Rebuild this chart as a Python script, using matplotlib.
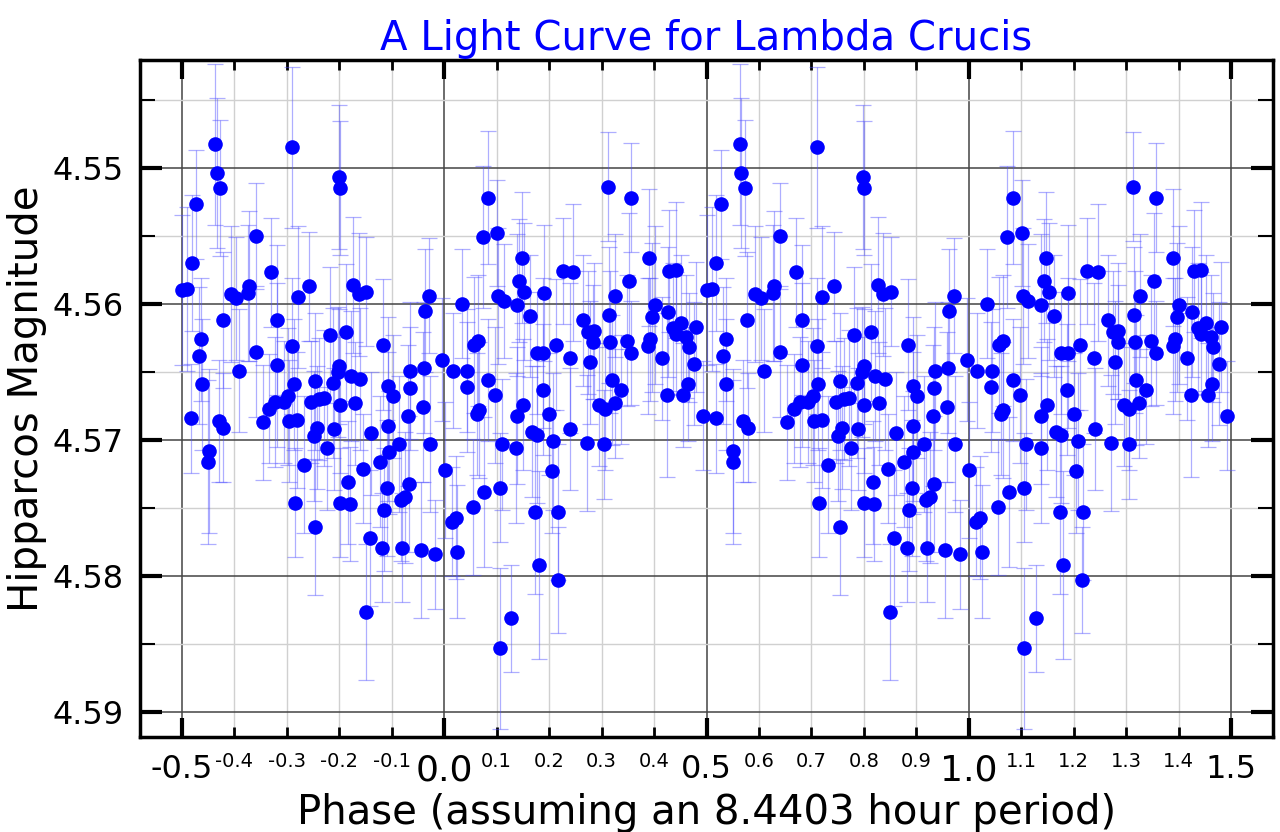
import matplotlib.pyplot as plt
import numpy as np

# one cycle of the folded light curve (phase 0..1)
phase = [
    0.996, 0.001, 0.016, 0.034, 0.044, 0.043, 0.014, 0.022, 0.025, 0.057,
    0.065, 0.062, 0.066, 0.055, 0.076, 0.073, 0.084, 0.084, 0.101, 0.103,
    0.113, 0.097, 0.110, 0.106, 0.106, 0.128, 0.148, 0.143, 0.153, 0.138,
    0.163, 0.150, 0.138, 0.137, 0.167, 0.176, 0.173, 0.180, 0.176, 0.189,
    0.190, 0.188, 0.200, 0.208, 0.205, 0.217, 0.216, 0.213, 0.226, 0.239,
    0.240, 0.246, 0.265, 0.275, 0.285, 0.284, 0.278, 0.272, 0.305, 0.296,
    0.306, 0.313, 0.326, 0.315, 0.316, 0.319, 0.325, 0.337, 0.356, 0.353,
    0.348, 0.357, 0.390, 0.401, 0.397, 0.393, 0.389, 0.416, 0.424, 0.426,
    0.429, 0.442, 0.437, 0.442, 0.452, 0.461, 0.466, 0.464, 0.456, 0.480,
    0.477, 0.493,
    0.501, 0.510, 0.519, 0.527, 0.518, 0.537, 0.532,
    0.538, 0.551, 0.550, 0.563, 0.566, 0.573, 0.578, 0.570, 0.579, 0.593,
    0.603, 0.609, 0.628, 0.626, 0.641, 0.641, 0.654, 0.666, 0.670, 0.682,
    0.682, 0.678, 0.694, 0.703, 0.710, 0.710, 0.713, 0.704, 0.720, 0.721,
    0.715, 0.732, 0.743, 0.754, 0.746, 0.751, 0.754, 0.762, 0.771, 0.758,
    0.776, 0.782, 0.787, 0.797, 0.800, 0.789, 0.801, 0.799, 0.801, 0.813,
    0.822, 0.829, 0.840, 0.827, 0.837, 0.851, 0.817, 0.801, 0.820, 0.846,
    0.861, 0.858, 0.850, 0.877, 0.882, 0.886, 0.891, 0.894, 0.893, 0.893,
    0.902, 0.884, 0.914, 0.920, 0.918, 0.926, 0.933, 0.931, 0.934, 0.935,
    0.955, 0.983, 0.959, 0.961, 0.963, 0.971, 0.973,
]

magnitude = [
    4.5641, 4.5722, 4.5649, 4.5600, 4.5649, 4.5661, 4.5760, 4.5757, 4.5782, 4.5630,
    4.5627, 4.5681, 4.5678, 4.5749, 4.5738, 4.5551, 4.5522, 4.5656, 4.5548, 4.5594,
    4.5598, 4.5667, 4.5703, 4.5735, 4.5853, 4.5831, 4.5566, 4.5583, 4.5591, 4.5601,
    4.5609, 4.5674, 4.5682, 4.5706, 4.5694, 4.5696, 4.5753, 4.5792, 4.5636, 4.5636,
    4.5592, 4.5663, 4.5681, 4.5701, 4.5723, 4.5753, 4.5803, 4.5630, 4.5576, 4.5640,
    4.5692, 4.5577, 4.5612, 4.5621, 4.5620, 4.5628, 4.5643, 4.5702, 4.5703, 4.5674,
    4.5677, 4.5514, 4.5594, 4.5608, 4.5628, 4.5656, 4.5673, 4.5663, 4.5522, 4.5583,
    4.5627, 4.5636, 4.5566, 4.5601, 4.5610, 4.5626, 4.5631, 4.5640, 4.5667, 4.5606,
    4.5576, 4.5575, 4.5618, 4.5622, 4.5614, 4.5624, 4.5632, 4.5659, 4.5667, 4.5617,
    4.5644, 4.5682,
    4.5590, 4.5589, 4.5570, 4.5527, 4.5684, 4.5626, 4.5638,
    4.5659, 4.5708, 4.5716, 4.5483, 4.5504, 4.5515, 4.5612, 4.5686, 4.5691, 4.5593,
    4.5596, 4.5649, 4.5587, 4.5592, 4.5550, 4.5635, 4.5687, 4.5677, 4.5577, 4.5612,
    4.5645, 4.5672, 4.5672, 4.5668, 4.5485, 4.5631, 4.5659, 4.5686, 4.5685, 4.5595,
    4.5746, 4.5718, 4.5587, 4.5657, 4.5672, 4.5697, 4.5764, 4.5670, 4.5669, 4.5691,
    4.5706, 4.5623, 4.5658, 4.5650, 4.5646, 4.5692, 4.5674, 4.5507, 4.5515, 4.5621,
    4.5653, 4.5673, 4.5655, 4.5586, 4.5593, 4.5591, 4.5731, 4.5746, 4.5747, 4.5721,
    4.5695, 4.5772, 4.5826, 4.5716, 4.5779, 4.5751, 4.5735, 4.5709, 4.5690, 4.5660,
    4.5668, 4.5630, 4.5703, 4.5779, 4.5744, 4.5742, 4.5732, 4.5682, 4.5662, 4.5649,
    4.5781, 4.5784, 4.5676, 4.5647, 4.5605, 4.5594, 4.5703,
]

mag_err = [
    .0045, .0050, .0042, .0040, .0045, .0048, .0040, .0045, .0049, .0050,
    .0048, .0045, .0050, .0050, .0055, .0052, .0049, .0045, .0039, .0050,
    .0042, .0050, .0048, .0040, .0059, .0039, .0048, .0045, .0050, .0052,
    .0045, .0048, .0050, .0055, .0048, .0050, .0060, .0069, .0045, .0055,
    .0050, .0048, .0045, .0050, .0045, .0050, .0039, .0048, .0039, .0055,
    .0045, .0050, .0048, .0045, .0050, .0042, .0045, .0050, .0040, .0045,
    .0045, .0040, .0045, .0050, .0052, .0048, .0040, .0040, .0040, .0050,
    .0048, .0038, .0050, .0058, .0055, .0045, .0050, .0045, .0060, .0048,
    .0045, .0050, .0048, .0045, .0050, .0045, .0040, .0042, .0038, .0048,
    .0045, .0040,
    .0055, .0060, .0050, .0040, .0040, .0045, .0050,
    .0048, .0060, .0060, .0059, .0055, .0050, .0050, .0045, .0040, .0050,
    .0045, .0045, .0055, .0050, .0039, .0048, .0042, .0040, .0040, .0055,
    .0060, .0048, .0045, .0050, .0059, .0050, .0048, .0045, .0050, .0052,
    .0040, .0050, .0040, .0050, .0045, .0048, .0050, .0045, .0050, .0045,
    .0045, .0050, .0055, .0048, .0042, .0045, .0050, .0053, .0049, .0050,
    .0048, .0045, .0052, .0050, .0045, .0040, .0045, .0040, .0042, .0040,
    .0045, .0050, .0050, .0048, .0040, .0045, .0050, .0045, .0055, .0050,
    .0045, .0048, .0050, .0040, .0045, .0048, .0050, .0052, .0045, .0050,
    .0050, .0040, .0055, .0048, .0045, .0042, .0050,
]

major_x = [-0.5, 0.0, 0.5, 1.0, 1.5]
major_x_labels = ['-0.5', '0.0', '0.5', '1.0', '1.5']
major_x_sizes = [23, 26, 23, 26, 23]
minor_x = [-0.4, -0.3, -0.2, -0.1, 0.1, 0.2, 0.3, 0.4, 0.6, 0.7, 0.8, 0.9,
           1.1, 1.2, 1.3, 1.4]
minor_x_labels = ['-0.4', '-0.3', '-0.2', '-0.1', '0.1', '0.2', '0.3', '0.4',
                  '0.6', '0.7', '0.8', '0.9', '1.1', '1.2', '1.3', '1.4']
major_y = [4.55, 4.56, 4.57, 4.58, 4.59]
major_y_labels = ['4.55', '4.56', '4.57', '4.58', '4.59']
minor_y = [4.545, 4.555, 4.565, 4.575, 4.585]

# plot two cycles: each point is shown at its phase and one cycle away
p = np.array(phase)
m = np.array(magnitude)
e = np.array(mag_err)
x = np.r_[p, np.where(p >= 0.5, p - 1, p + 1)]
y = np.r_[m, m]
yerr = np.r_[e, e]

fig = plt.figure(figsize=(12.8, 8.32), dpi=100)
ax = fig.add_axes([140/1280, 1 - 737/832, (1273 - 140)/1280, (737 - 60)/832])

ax.errorbar(x, y, yerr=yerr, fmt='none', ecolor=(0.3, 0.3, 1.0, 0.45),
            elinewidth=0.9, capsize=6, capthick=0.9, zorder=2)
ax.plot(x, y, 'o', color='#0000ff', ms=10.5, mec='none', zorder=3)

ax.set_xlim(-0.58, 1.58)
ax.set_ylim(4.5918, 4.5421)

ax.set_xticks(major_x, labels=major_x_labels)
for lbl, fs in zip(ax.get_xticklabels(), major_x_sizes):
    lbl.set_fontsize(fs)
ax.set_xticks(minor_x, labels=minor_x_labels, minor=True, fontsize=14)
ax.set_yticks(major_y, labels=major_y_labels, fontsize=23)
ax.set_yticks(minor_y, minor=True)

ax.tick_params(which='both', direction='in', top=True, right=True)
ax.tick_params(axis='x', which='major', length=14, width=3, pad=12)
ax.tick_params(axis='x', which='minor', length=7, width=2, pad=11)
ax.tick_params(axis='y', which='major', length=16, width=3, pad=12)
ax.tick_params(axis='y', which='minor', length=11, width=1.5)

ax.set_axisbelow(True)
ax.grid(which='major', color='#444444', linewidth=1.1)
ax.grid(which='minor', color='#d0d0d0', linewidth=1.0)
for sp in ax.spines.values():
    sp.set_linewidth(2.5)

ax.set_title('A Light Curve for Lambda Crucis', color='blue', fontsize=29, pad=7)
ax.set_xlabel('Phase (assuming an 8.4403 hour period)', fontsize=29, labelpad=4)
ax.set_ylabel('Hipparcos Magnitude', fontsize=29, labelpad=4)

fig.savefig('out.png', dpi=100)
